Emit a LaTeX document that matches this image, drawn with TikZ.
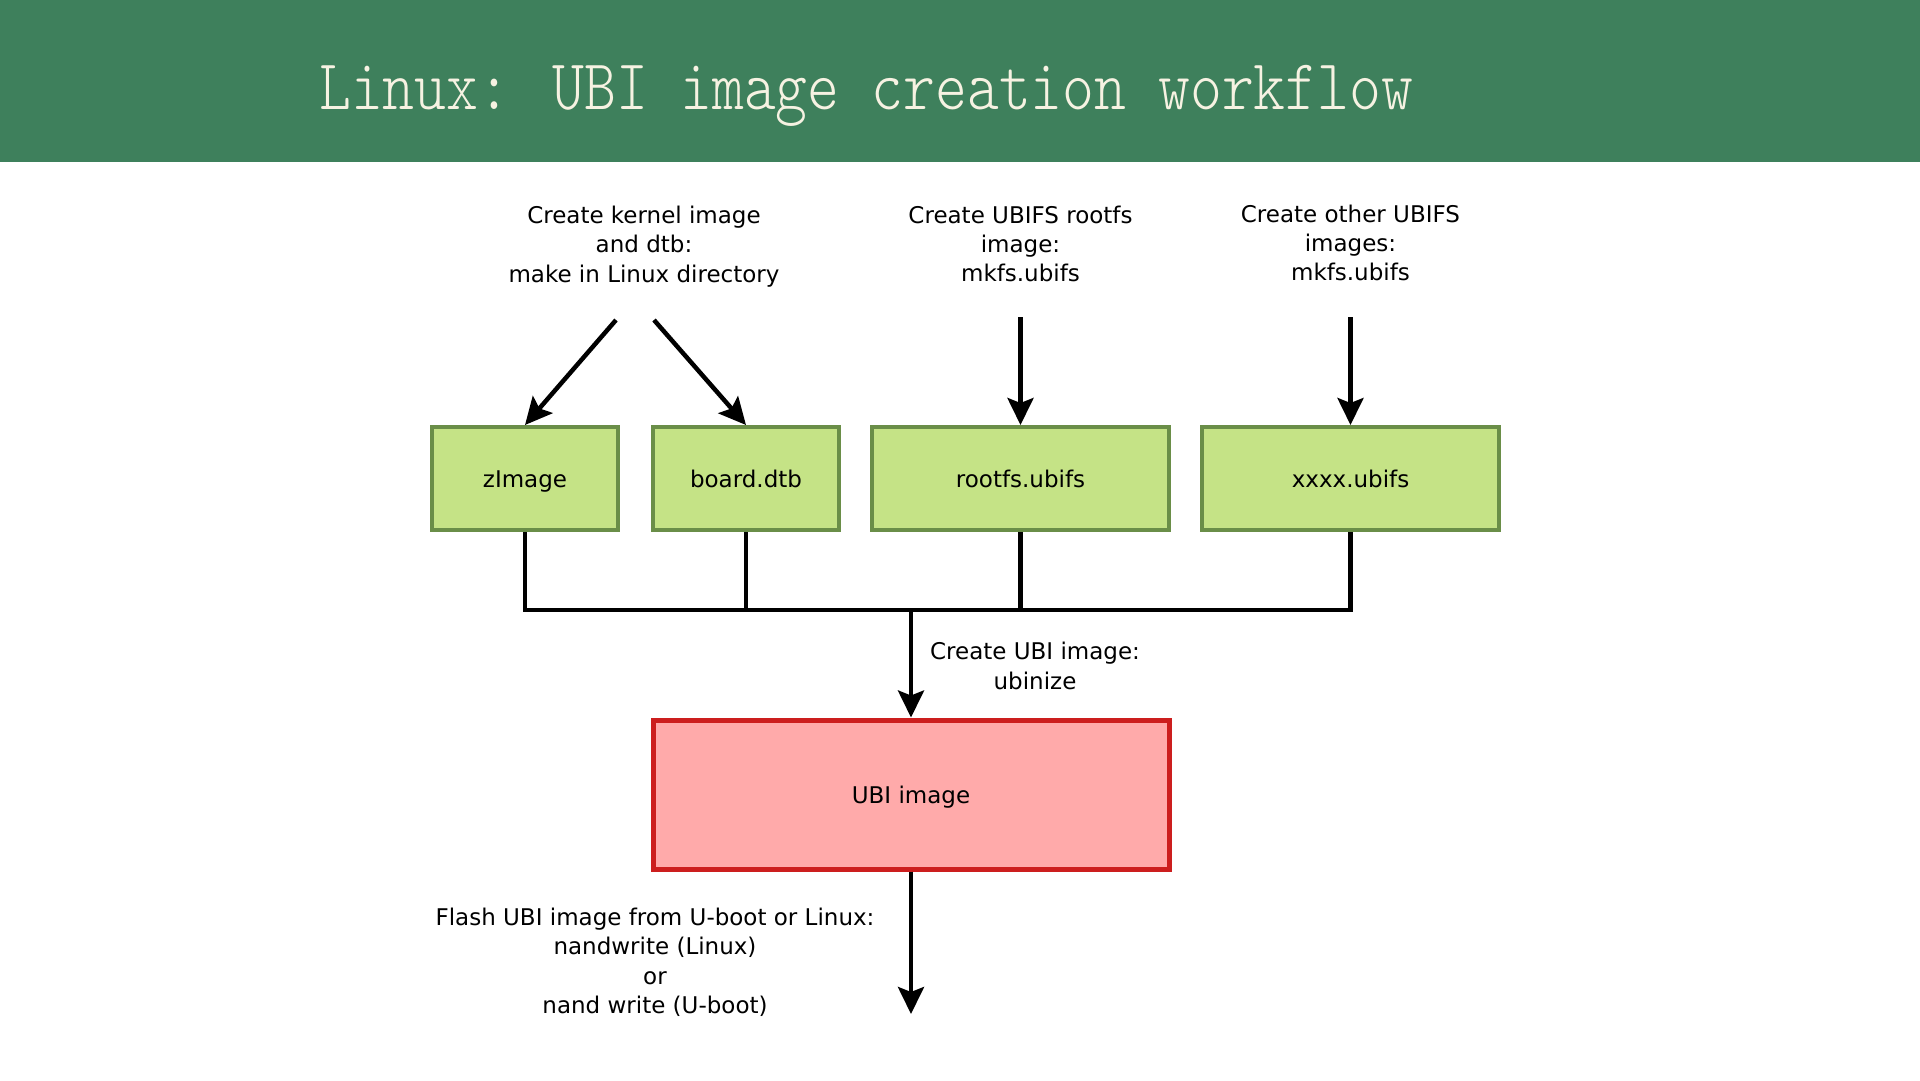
\documentclass[tikz,border=0pt]{standalone}
\usepackage{fontspec}
\setmainfont{DejaVu Sans}
\newfontfamily\titlefont{Latin Modern Mono Light}
\usetikzlibrary{arrows.meta}
\definecolor{hdr}{RGB}{62,128,92}
\definecolor{ttl}{RGB}{246,242,226}
\definecolor{gfill}{RGB}{197,227,134}
\definecolor{gdraw}{RGB}{106,142,72}
\definecolor{rfill}{RGB}{255,170,170}
\definecolor{rdraw}{RGB}{204,30,30}
\begin{document}
\begin{tikzpicture}[x=1pt,y=-1pt,
  every node/.style={font=\fontsize{23}{29.4}\selectfont, inner sep=0pt},
  gbox/.style={draw=gdraw, fill=gfill, line width=4pt, minimum height=103pt, text height=19pt, text depth=1pt},
  lbl/.style={align=center},
  arr/.style={line width=4.5pt, -{Stealth[length=27pt,width=26pt,inset=5pt]}},
  wire/.style={line width=4.5pt}]
\useasboundingbox (0,0) rectangle (1920,1080);
\fill[white] (0,0) rectangle (1920,1080);
\fill[hdr] (0,0) rectangle (1920,162);
\node[anchor=base west, text=ttl, font=\titlefont\fontsize{60.7}{61}\selectfont] (title) at (319,109) {\scalebox{1}[1.18]{Linux: UBI image creation workflow}};

\node[gbox, minimum width=186pt] (zimg) at (525,478.5) {zImage};
\node[gbox, minimum width=186pt] (board) at (746,478.5) {board.dtb};
\node[gbox, minimum width=297pt] (rootfs) at (1020.5,478.5) {rootfs.ubifs};
\node[gbox, minimum width=297pt] (xxxx) at (1350.5,478.5) {xxxx.ubifs};
\node[draw=rdraw, fill=rfill, line width=5pt, minimum width=516pt, minimum height=149pt, text height=19pt, text depth=1pt] (ubi) at (911,794.5) {UBI image};

\node[lbl] (lk) at (644,246.5) {Create kernel image\\and dtb:\\make in Linux directory};
\node[lbl] (lr) at (1020.5,244) {Create UBIFS rootfs\\image:\\mkfs.ubifs};
\node[lbl] (lo) at (1350.5,243) {Create other UBIFS\\images:\\mkfs.ubifs};
\node[lbl] (lu) at (1035,666) {Create UBI image:\\ubinize};
\node[lbl] (lf) at (655,962.2) {Flash UBI image from U-boot or Linux:\\nandwrite (Linux)\\or\\nand write (U-boot)};

\coordinate (k1) at (616,320);
\coordinate (k2) at (654,320);
\coordinate (r1) at (1020.5,317);
\coordinate (x1) at (1350.5,317);
\coordinate (bus) at (911,610);
\coordinate (out) at (911,1014);

\draw[arr] (k1) -- (zimg.north);
\draw[arr] (k2) -- (board.north);
\draw[arr] (r1) -- (rootfs.north);
\draw[arr] (x1) -- (xxxx.north);

\draw[wire] (zimg.south) -- (zimg.south |- bus) -- (xxxx.south |- bus) -- (xxxx.south);
\draw[wire] (board.south) -- (board.south |- bus);
\draw[wire] (rootfs.south) -- (rootfs.south |- bus);
\draw[arr] (bus) -- (ubi.north);
\draw[arr] (ubi.south) -- (out);
\end{tikzpicture}
\end{document}
